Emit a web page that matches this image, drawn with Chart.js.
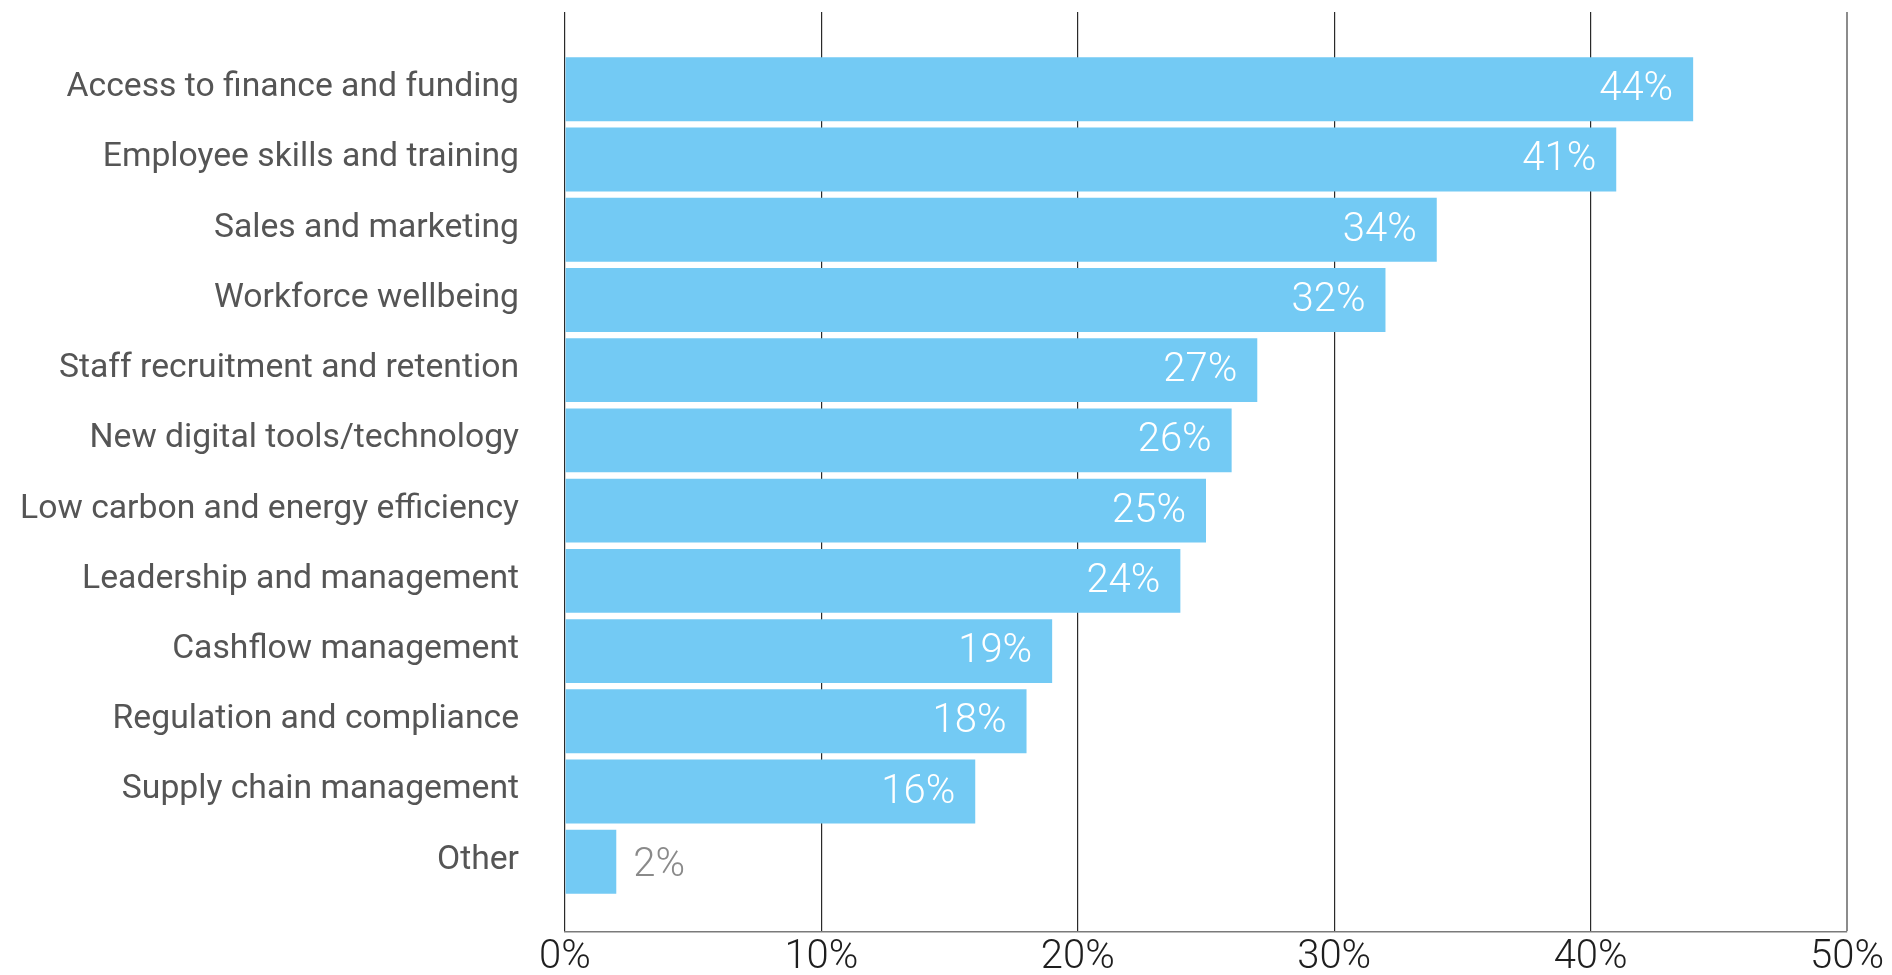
<!DOCTYPE html>
<html>
<head>
<meta charset="utf-8">
<script src="https://cdn.jsdelivr.net/npm/chart.js@4/dist/chart.umd.min.js"></script>
<style>
  html, body { margin: 0; padding: 0; background: #ffffff; }
  #chart { display: block; }
</style>
</head>
<body>
<canvas id="chart" width="1892" height="975"></canvas>
<script>
// Areas of support, share of respondents (%)
const categories = [
  'Access to finance and funding',
  'Employee skills and training',
  'Sales and marketing',
  'Workforce wellbeing',
  'Staff recruitment and retention',
  'New digital tools/technology',
  'Low carbon and energy efficiency',
  'Leadership and management',
  'Cashflow management',
  'Regulation and compliance',
  'Supply chain management',
  'Other'
];
const shares = [44, 41, 34, 32, 27, 26, 25, 24, 19, 18, 16, 2];
const axisTicks = [0, 10, 20, 30, 40, 50];

const BAR_COLOR = '#73CAF4';
const FONT = 'Roboto, "Open Sans", sans-serif';

// Writes each percentage at the end of its bar: inside in white when it fits,
// otherwise just past the bar end in grey.
const valueLabels = {
  id: 'valueLabels',
  afterDatasetsDraw(chart) {
    const ctx = chart.ctx;
    const meta = chart.getDatasetMeta(0);
    ctx.save();
    ctx.font = '300 40px ' + FONT;
    ctx.textBaseline = 'middle';
    meta.data.forEach((bar, i) => {
      const text = shares[i] + '%';
      const w = ctx.measureText(text).width;
      const len = Math.abs(bar.x - bar.base);
      if (len > w + 30) {
        ctx.fillStyle = '#ffffff';
        ctx.textAlign = 'right';
        ctx.fillText(text, bar.x - 20, bar.y + 1);
      } else {
        ctx.fillStyle = '#8a8a8a';
        ctx.textAlign = 'left';
        ctx.fillText(text, bar.x + 17, bar.y + 4);
      }
    });
    ctx.restore();
  }
};

new Chart(document.getElementById('chart'), {
  type: 'bar',
  data: {
    datasets: [{
      data: shares.map((v, i) => ({ x: v, y: i })),
      backgroundColor: BAR_COLOR,
      borderWidth: 0,
      barPercentage: 0.91,
      categoryPercentage: 1
    }]
  },
  options: {
    indexAxis: 'y',
    responsive: false,
    animation: false,
    devicePixelRatio: 1,
    events: [],
    layout: { padding: { top: 12, right: 45, left: 0, bottom: 0 } },
    plugins: {
      legend: { display: false },
      tooltip: { enabled: false }
    },
    scales: {
      x: {
        type: 'linear',
        position: 'bottom',
        min: 0,
        max: 50,
        offset: false,
        afterBuildTicks(scale) {
          scale.ticks = axisTicks.map(v => ({ value: v }));
        },
        afterFit(scale) {
          scale.height = 43;
          scale.paddingLeft = 0;
          scale.paddingRight = 0;
        },
        ticks: {
          callback: v => v + '%',
          font: { family: FONT, size: 40, weight: '300' },
          color: '#1e1e1e',
          padding: 2,
          maxRotation: 0
        },
        grid: {
          offset: false,
          drawTicks: false,
          color: c => (c.tick && c.tick.value === 50) ? '#8c8c8c' : '#2a2a2a',
          lineWidth: c => (c.tick && c.tick.value === 50) ? 2 : 1.2
        },
        border: { display: true, color: '#7a7a7a', width: 1.5 }
      },
      y: {
        type: 'linear',
        reverse: true,
        offset: false,
        min: -1.1,
        max: 12,
        afterBuildTicks(scale) {
          scale.ticks = categories.map((_, i) => ({ value: i }));
        },
        afterFit(scale) {
          scale.width = 565;
          scale.paddingTop = 0;
          scale.paddingBottom = 0;
        },
        ticks: {
          callback: v => categories[v] ?? '',
          font: { family: FONT, size: 33.7, weight: '400' },
          color: '#555555',
          padding: 46,
          labelOffset: -1.5,
          autoSkip: false
        },
        grid: { display: false, offset: false, drawTicks: false },
        border: { display: false }
      }
    }
  },
  plugins: [valueLabels]
});
</script>
</body>
</html>
